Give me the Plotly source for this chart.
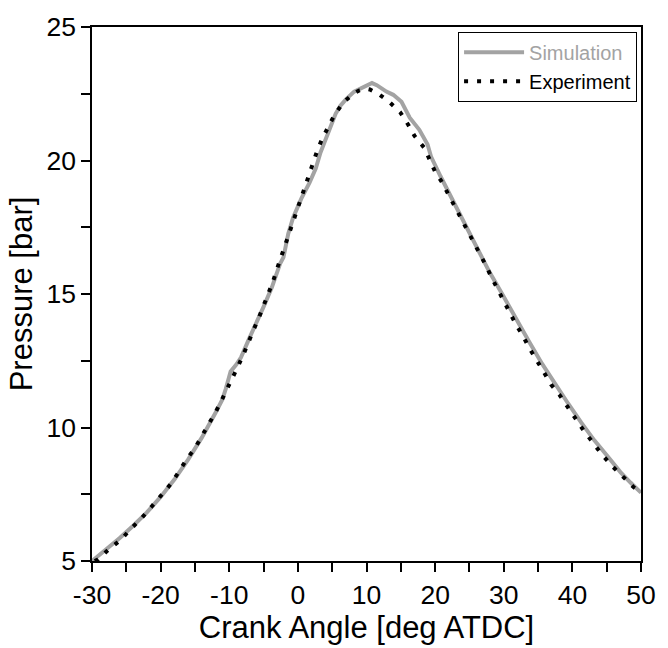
import plotly.graph_objects as go

# Simulation (gray solid)
sim_angle = [-30, -28, -26, -24, -22, -20, -18, -16, -14, -12, -11, -10.5, -9.8, -9.0, -8.3,
             -7.1, -5.9, -5.0, -3.8, -2.6, -2.1, -1.4, -0.7, 0.5, 1.7, 2.6, 3.3, 4.3, 5.5,
             6.2, 7.0, 8.2, 9.6, 10.3, 10.8, 11.5, 12.9, 13.9, 15.1, 16.3, 17.7, 18.9, 19.4,
             20.8, 22.2, 24.1, 26.0, 27.9, 29.9, 31.8, 33.7, 35.6, 37.5, 39.4, 41.3, 43.2,
             45.1, 47.0, 48.5, 50]
sim_pressure = [5.0, 5.42, 5.85, 6.32, 6.82, 7.4, 8.05, 8.8, 9.62, 10.55, 11.05, 11.45, 12.1,
                12.35, 12.62, 13.33, 13.99, 14.52, 15.24, 16.13, 16.37, 17.26, 17.86, 18.57,
                19.17, 19.7, 20.3, 21.0, 21.75, 22.05, 22.29, 22.58, 22.76, 22.85, 22.9, 22.82,
                22.58, 22.46, 22.2, 21.6, 21.15, 20.6, 20.15, 19.4, 18.7, 17.74, 16.79, 15.83,
                14.94, 14.05, 13.21, 12.38, 11.6, 10.89, 10.18, 9.52, 8.93, 8.33, 7.93, 7.56]

# Experiment (black dotted)
exp_angle = [-29.6, -29.1, -27.5, -25.8, -24.4, -22.9, -21.3, -20.0, -18.5, -17.3, -16.2, -15.0,
             -13.9, -13.0, -12.0, -11.05, -10.24, -9.4, -8.6, -7.8, -7.0, -6.4, -5.6, -4.9,
             -4.3, -3.65, -3.1, -2.5, -1.9, -1.35, -0.8, -0.2, 0.35, 1.0, 1.55, 2.2, 2.8,
             3.55, 4.45, 5.3, 6.6, 8.2, 9.0, 9.95, 10.5, 11.7, 13.3, 14.9, 16.1, 17.0, 18.4,
             19.1, 20.0, 20.9, 21.9, 22.8, 23.75, 24.7, 25.55, 26.5, 27.4, 28.2, 29.05, 30.0,
             30.9, 31.8, 32.8, 33.7, 34.8, 35.8, 36.9, 38.1, 39.3, 40.45, 41.65, 43.0, 44.3,
             45.85, 47.4, 48.95, 50]
exp_pressure = [5.0, 5.06, 5.45, 5.79, 6.19, 6.57, 7.04, 7.45, 7.89, 8.36, 8.81, 9.23, 9.70,
                10.10, 10.57, 11.05, 11.47, 11.9, 12.36, 12.82, 13.27, 13.69, 14.17, 14.62,
                15.02, 15.45, 15.89, 16.35, 16.81, 17.24, 17.68, 18.13, 18.57, 19.01, 19.46,
                19.92, 20.35, 20.82, 21.27, 21.69, 22.17, 22.52, 22.63, 22.69, 22.66, 22.5,
                22.2, 21.81, 21.33, 20.92, 20.48, 20.08, 19.58, 19.23, 18.75, 18.31, 17.86,
                17.40, 16.96, 16.55, 16.07, 15.63, 15.20, 14.74, 14.29, 13.85, 13.43, 12.98,
                12.52, 12.08, 11.61, 11.23, 10.77, 10.33, 9.88, 9.43, 8.99, 8.54, 8.13, 7.76,
                7.58]

x_ticks = [-30, -20, -10, 0, 10, 20, 30, 40, 50]
x_ticktext = ["-30", "-20", "-10", "0", "10", "20", "30", "40", "50"]
x_minor = [-25, -15, -5, 5, 15, 25, 35, 45]
y_ticks = [5, 10, 15, 20, 25]
y_ticktext = ["5", "10", "15", "20", "25"]
y_minor = [7.5, 12.5, 17.5, 22.5]

FONT = "Liberation Sans, Arial, sans-serif"
GRAY = "#a3a3a3"

fig = go.Figure()
fig.add_trace(go.Scatter(
    x=sim_angle, y=sim_pressure, mode="lines",
    name='<span style="color:%s">Simulation</span>' % GRAY,
    line=dict(color=GRAY, width=4),
))
fig.add_trace(go.Scatter(
    x=exp_angle, y=exp_pressure, mode="lines",
    name="Experiment",
    line=dict(color="black", width=4, dash="4px,9px"),
))

axis_common = dict(
    showline=True, linecolor="black", linewidth=1.5, mirror=True,
    ticks="outside", ticklen=9, tickwidth=1.5, tickcolor="black",
    showgrid=False, zeroline=False, ticklabeloverflow="allow",
    tickfont=dict(family=FONT, size=26.5, color="black"),
)

fig.update_layout(
    width=668, height=648,
    margin=dict(l=92, r=17, t=14, b=74),
    paper_bgcolor="white", plot_bgcolor="white",
    font=dict(family=FONT, color="black"),
    showlegend=True,
    legend=dict(
        x=1 - 4 / 559, y=1 - 5 / 560, xanchor="right", yanchor="top",
        bgcolor="white", bordercolor="black", borderwidth=1,
        font=dict(family=FONT, size=20, color="black"),
        itemwidth=60, tracegroupgap=0,
    ),
    xaxis=dict(
        range=[-30, 50], tickmode="array", tickvals=x_ticks, ticktext=x_ticktext,
        minor=dict(tickmode="array", tickvals=x_minor, ticks="outside", ticklen=9,
                   tickwidth=1.5, tickcolor="black", showgrid=False),
        title=dict(text="Crank Angle [deg ATDC]", standoff=5,
                   font=dict(family=FONT, size=31, color="black")),
        **axis_common,
    ),
    yaxis=dict(
        range=[5, 25.0001], tickmode="array", tickvals=y_ticks, ticktext=y_ticktext,
        minor=dict(tickmode="array", tickvals=y_minor, ticks="outside", ticklen=9,
                   tickwidth=1.5, tickcolor="black", showgrid=False),
        title=dict(text="Pressure [bar]", standoff=5,
                   font=dict(family=FONT, size=31, color="black")),
        **axis_common,
    ),
)

fig.write_html("out.html")
